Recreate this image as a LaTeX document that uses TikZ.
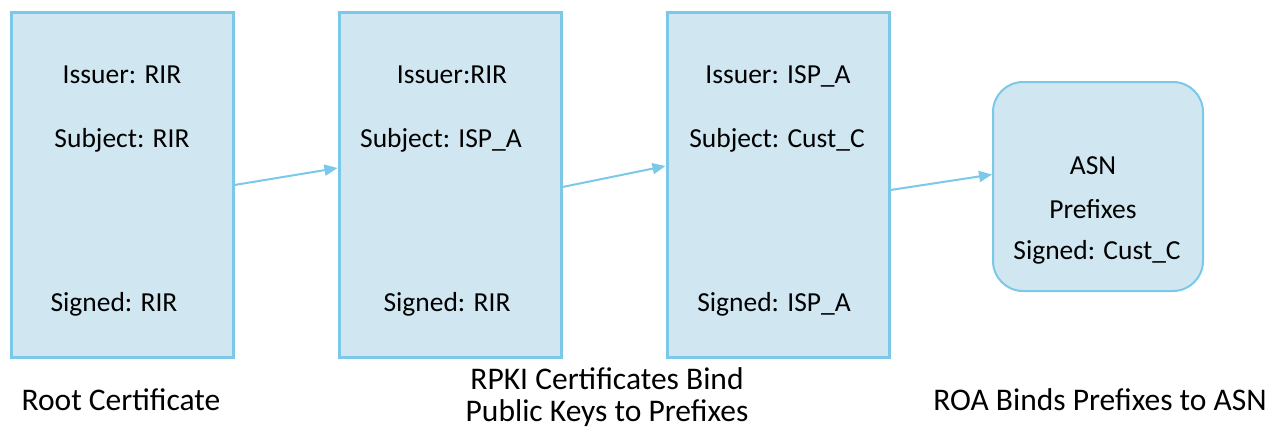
\documentclass[tikz,border=0pt]{standalone}
\usepackage{fontspec}
\setmainfont{Carlito}
\usetikzlibrary{arrows.meta}
\definecolor{boxfill}{HTML}{D0E6F0}
\definecolor{boxline}{HTML}{7BC8E8}
\begin{document}
\begin{tikzpicture}[x=1pt,y=-1pt,
  cert/.style={draw=boxline,fill=boxfill,line width=3pt,minimum width=222pt,minimum height=344pt,inner sep=0pt},
  roa/.style={draw=boxline,fill=boxfill,line width=2pt,rounded corners=30pt,minimum width=210pt,minimum height=209pt,inner sep=0pt},
  txt/.style={anchor=base,font=\fontsize{27.5}{32}\selectfont,inner sep=0pt},
  captxt/.style={anchor=base,font=\fontsize{31.5}{36}\selectfont,inner sep=0pt},
  link/.style={draw=boxline,line width=2pt,-{Triangle[length=13pt,width=11pt]}}]
\useasboundingbox (0,0) rectangle (1282,444);
\node[cert] (b1) at (122,185) {};
\node[cert] (b2) at (450,185) {};
\node[cert] (b3) at (778,185) {};
\node[roa] (b4) at (1098,186.5) {};
\node[txt] (t11) at (122,83) {Issuer: RIR};
\node[txt] (t12) at (122,147) {Subject: RIR};
\node[txt] (t13) at (114,311) {Signed: RIR};
\node[txt] (t21) at (452,83) {Issuer:RIR};
\node[txt] (t22) at (441,147) {Subject: ISP\_A};
\node[txt] (t23) at (447,311) {Signed: RIR};
\node[txt] (t31) at (778,83) {Issuer: ISP\_A};
\node[txt] (t32) at (777,147) {Subject: Cust\_C};
\node[txt] (t33) at (774,311) {Signed: ISP\_A};
\node[txt] (t41) at (1093,174) {ASN};
\node[txt] (t42) at (1093,218) {Prefixes};
\node[txt] (t43) at (1097,259) {Signed: Cust\_C};
\node[captxt] (c1) at (121,410) {Root Certificate};
\node[captxt] (c2a) at (607,389) {RPKI Certificates Bind};
\node[captxt] (c2b) at (607,421) {Public Keys to Prefixes};
\node[captxt] (c3) at (1100,410) {ROA Binds Prefixes to ASN};
\draw[link] (b1.east) -- ([yshift=17pt]b2.west);
\draw[link] ([yshift=-2pt]b2.east) -- ([yshift=19pt]b3.west);
\draw[link] ([yshift=-5pt]b3.east) -- ([yshift=12pt]b4.west);
\end{tikzpicture}
\end{document}
